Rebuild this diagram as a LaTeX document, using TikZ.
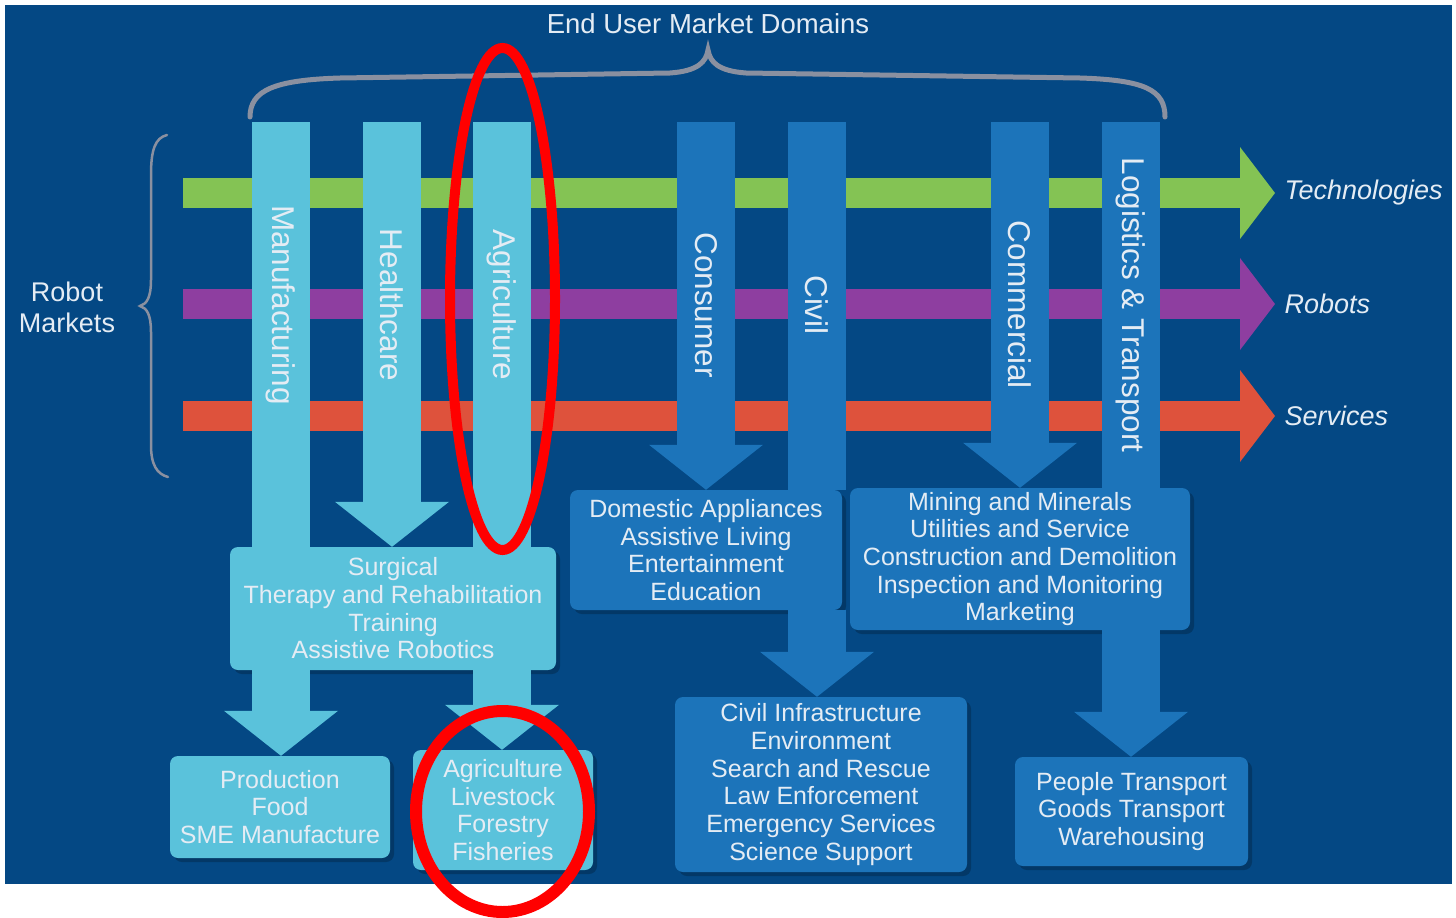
\documentclass[tikz,border=0pt]{standalone}
\usepackage{fontspec}
\setmainfont{Liberation Sans}
\usetikzlibrary{arrows.meta,shadows}

\definecolor{bgblue}{RGB}{4,72,132}
\definecolor{lightcyan}{RGB}{90,194,219}
\definecolor{midblue}{RGB}{28,116,186}
\definecolor{techgreen}{RGB}{132,195,84}
\definecolor{robotpurple}{RGB}{142,62,160}
\definecolor{servicered}{RGB}{222,82,60}
\definecolor{bracegray}{RGB}{138,144,160}
\definecolor{txtwhite}{RGB}{228,236,244}

\begin{document}
\begin{tikzpicture}[x=1pt, y=-1pt,
    txt/.style={text=txtwhite, align=center, font=\fontsize{25}{27.7}\selectfont},
    toplabel/.style={text=txtwhite, font=\fontsize{27.5}{30}\selectfont},
    sidelabel/.style={text=txtwhite, anchor=west, font=\fontsize{27}{30}\selectfont\itshape},
    colname/.style={text=txtwhite, rotate=-90, font=\fontsize{31.5}{34}\selectfont},
    lightbox/.style={txt, fill=lightcyan, rounded corners=8pt, inner sep=0pt,
        drop shadow={shadow xshift=4pt, shadow yshift=-4pt, opacity=0.22, fill=black}},
    darkbox/.style={lightbox, fill=midblue},
    shaft/.style={line width=58pt},
    shafthead/.style={shaft, -{Triangle[width=114pt, length=45pt, line width=0pt]}},
    trackbar/.style={line width=30pt, -{Triangle[width=92pt, length=35pt, line width=0pt]}},
    redmark/.style={draw=red, line width=10pt}]

    \useasboundingbox (0,0) rectangle (1456,918);
    \fill[bgblue] (5,5) rectangle (1452,884);

    \draw[bracegray, line width=5pt, line cap=round] (250,117) .. controls (250,90) and (275,80) .. (340,78) -- (670,73) .. controls (698,71) and (706,62) .. (708,50) .. controls (710,62) and (718,71) .. (746,73) -- (1080,78) .. controls (1145,80) and (1165,90) .. (1165,117);
    \draw[bracegray, line width=2.5pt, line cap=round] (167,135) .. controls (155,138) and (151,150) .. (151,175) -- (151,280) .. controls (151,297) and (147,304) .. (140,306) .. controls (147,308) and (151,315) .. (151,332) -- (151,445) .. controls (151,465) and (157,474) .. (168,477);

    \draw
    (708,24) node[toplabel](enduser){End User Market Domains}
    (67,307) node[txt, font=\fontsize{27}{31}\selectfont](robmkt){Robot\\Markets}
    (1281,193) node[sidelabel](tech){Technologies}
    (1281,304) node[sidelabel](robots){Robots}
    (1281,416) node[sidelabel](services){Services}
    (183,193) coordinate(techstart)
    (183,304) coordinate(robotstart)
    (183,416) coordinate(servstart)
    (281,122) coordinate(manu)
    (392,122) coordinate(heal)
    (502,122) coordinate(agr)
    (706,122) coordinate(cons)
    (817,122) coordinate(civl)
    (1020,122) coordinate(comm)
    (1131,122) coordinate(logi)
    (393,608.5) node[lightbox, minimum width=326pt, minimum height=123pt](surg){Surgical\\Therapy and Rehabilitation\\Training\\Assistive Robotics}
    (280,807) node[lightbox, minimum width=220pt, minimum height=102pt](prod){Production\\Food\\SME Manufacture}
    (503,810) node[lightbox, minimum width=180pt, minimum height=120pt](agri){Agriculture\\Livestock\\Forestry\\Fisheries}
    (706,550) node[darkbox, minimum width=272pt, minimum height=120pt](dom){Domestic Appliances\\Assistive Living\\Entertainment\\Education}
    (1020,559) node[darkbox, minimum width=340pt, minimum height=142pt](mine){Mining and Minerals\\Utilities and Service\\Construction and Demolition\\Inspection and Monitoring\\Marketing}
    (821,784.5) node[darkbox, minimum width=292pt, minimum height=175pt](civ){Civil Infrastructure\\Environment\\Search and Rescue\\Law Enforcement\\Emergency Services\\Science Support}
    (1131.5,811.5) node[darkbox, minimum width=233pt, minimum height=109pt](ppl){People Transport\\Goods Transport\\Warehousing};

    \draw[trackbar, techgreen] (techstart) -- ([xshift=-6pt]tech.west);
    \draw[trackbar, robotpurple] (robotstart) -- ([xshift=-6pt]robots.west);
    \draw[trackbar, servicered] (servstart) -- ([xshift=-6pt]services.west);

    \draw[shaft, lightcyan] (manu) -- (manu |- surg.north);
    \draw[shafthead, lightcyan] (heal) -- (heal |- surg.north);
    \draw[shaft, lightcyan] (agr) -- (agr |- surg.north);
    \draw[shafthead, midblue] (cons) -- (cons |- dom.north);
    \draw[shaft, midblue] (civl) -- (civl |- dom.north);
    \draw[shafthead, midblue] (comm) -- (comm |- mine.north);
    \draw[shaft, midblue] (logi) -- (logi |- mine.north);
    \draw[shafthead, lightcyan] (manu |- surg.south) -- (manu |- prod.north);
    \draw[shafthead, lightcyan] (agr |- surg.south) -- (agr |- agri.north);
    \draw[shafthead, midblue] (civl |- dom.south) -- (civl |- civ.north);
    \draw[shafthead, midblue] (logi |- mine.south) -- (logi |- ppl.north);

    \draw
    (281,305) node[colname](manulbl){Manufacturing}
    (392,305) node[colname](heallbl){Healthcare}
    (502,305) node[colname](agrlbl){Agriculture}
    (706,305) node[colname](conslbl){Consumer}
    (817,305) node[colname](civllbl){Civil}
    (1020,305) node[colname](commlbl){Commercial}
    (1131,305) node[colname](logilbl){Logistics \& Transport};

    \draw[redmark] (502.5,299) ellipse [x radius=52.5pt, y radius=251pt];
    \draw[redmark, line width=12pt] (502.5,811.5) ellipse [x radius=86.5pt, y radius=100.5pt];

  \end{tikzpicture}
\end{document}
